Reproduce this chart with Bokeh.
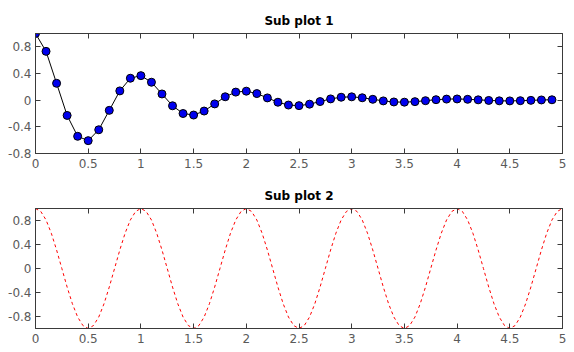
import numpy as np
from bokeh.plotting import figure
from bokeh.layouts import column
from bokeh.models import LinearAxis, FixedTicker, CustomJSTickFormatter, Range1d
from bokeh.embed import file_html
from bokeh.resources import INLINE

# ---- data ----
t1 = [0.0, 0.1, 0.2, 0.3, 0.4, 0.5, 0.6, 0.7, 0.8, 0.9,
      1.0, 1.1, 1.2, 1.3, 1.4, 1.5, 1.6, 1.7, 1.8, 1.9,
      2.0, 2.1, 2.2, 2.3, 2.4, 2.5, 2.6, 2.7, 2.8, 2.9,
      3.0, 3.1, 3.2, 3.3, 3.4, 3.5, 3.6, 3.7, 3.8, 3.9,
      4.0, 4.1, 4.2, 4.3, 4.4, 4.5, 4.6, 4.7, 4.8, 4.9]
y1 = [1.0, 0.732, 0.253, -0.229, -0.542, -0.607, -0.444, -0.153, 0.139, 0.329,
      0.368, 0.269, 0.093, -0.084, -0.200, -0.223, -0.163, -0.056, 0.051, 0.121,
      0.135, 0.099, 0.034, -0.031, -0.073, -0.082, -0.060, -0.021, 0.019, 0.044,
      0.050, 0.036, 0.013, -0.011, -0.027, -0.030, -0.022, -0.008, 0.007, 0.016,
      0.018, 0.013, 0.005, -0.004, -0.010, -0.011, -0.008, -0.003, 0.003, 0.006]

t2 = [round(i * 0.05, 2) for i in range(101)]
y2 = [1.0, 0.951, 0.809, 0.588, 0.309, 0.0, -0.309, -0.588, -0.809, -0.951,
      -1.0, -0.951, -0.809, -0.588, -0.309, 0.0, 0.309, 0.588, 0.809, 0.951,
      1.0, 0.951, 0.809, 0.588, 0.309, 0.0, -0.309, -0.588, -0.809, -0.951,
      -1.0, -0.951, -0.809, -0.588, -0.309, 0.0, 0.309, 0.588, 0.809, 0.951,
      1.0, 0.951, 0.809, 0.588, 0.309, 0.0, -0.309, -0.588, -0.809, -0.951,
      -1.0, -0.951, -0.809, -0.588, -0.309, 0.0, 0.309, 0.588, 0.809, 0.951,
      1.0, 0.951, 0.809, 0.588, 0.309, 0.0, -0.309, -0.588, -0.809, -0.951,
      -1.0, -0.951, -0.809, -0.588, -0.309, 0.0, 0.309, 0.588, 0.809, 0.951,
      1.0, 0.951, 0.809, 0.588, 0.309, 0.0, -0.309, -0.588, -0.809, -0.951,
      -1.0, -0.951, -0.809, -0.588, -0.309, 0.0, 0.309, 0.588, 0.809, 0.951,
      1.0]

x_ticks = [0, 0.5, 1, 1.5, 2, 2.5, 3, 3.5, 4, 4.5, 5]
y_ticks = [-0.8, -0.4, 0, 0.4, 0.8]
titles = ["Sub plot 1", "Sub plot 2"]

AX = "#3a3a3a"
LBL = "#5a5a5a"
FONT = "DejaVu Sans"


def style(p):
    fmt = CustomJSTickFormatter(code="return tick.toString();")
    for ax in list(p.xaxis) + list(p.yaxis):
        ax.axis_line_color = AX
        ax.major_tick_line_color = AX
        ax.major_tick_in = 5
        ax.major_tick_out = 0
        ax.minor_tick_line_color = None
        ax.major_label_text_color = LBL
        ax.major_label_text_font = FONT
        ax.major_label_text_font_size = "12px"
        ax.formatter = fmt
    p.xaxis[0].ticker = FixedTicker(ticks=x_ticks)
    p.yaxis[0].ticker = FixedTicker(ticks=y_ticks)
    top = LinearAxis(ticker=FixedTicker(ticks=x_ticks))
    right = LinearAxis(ticker=FixedTicker(ticks=y_ticks))
    for ax in (top, right):
        ax.axis_line_color = AX
        ax.major_tick_line_color = AX
        ax.major_tick_in = 5
        ax.major_tick_out = 0
        ax.minor_tick_line_color = None
        ax.major_label_text_font_size = "0px"
        ax.major_label_text_alpha = 0
        ax.major_label_standoff = 0
    p.add_layout(top, "above")
    p.add_layout(right, "right")
    p.xaxis[0].major_label_standoff = 8
    p.yaxis[0].major_label_standoff = 4
    p.xgrid.grid_line_color = None
    p.ygrid.grid_line_color = None
    p.outline_line_color = AX
    p.title.align = "center"
    p.title.text_font = FONT
    p.title.text_font_size = "12px"
    p.title.text_font_style = "bold"
    p.title.text_color = "black"
    p.title.standoff = 11
    p.min_border_left = 35
    p.min_border_right = 12
    p.background_fill_color = "white"
    p.border_fill_color = "white"


p1 = figure(width=574, height=180, title=titles[0], output_backend="svg",
            toolbar_location=None, x_range=Range1d(0, 5), y_range=Range1d(-0.8, 1.0))
p1.line(t1, y1, line_color="black", line_width=1)
p1.scatter(t1, y1, size=8, fill_color="#0000ee", line_color="black", line_width=1)
style(p1)
p1.min_border_top = 33
p1.min_border_bottom = 27

p2 = figure(width=574, height=172, title=titles[1], output_backend="svg",
            toolbar_location=None, x_range=Range1d(0, 5), y_range=Range1d(-1.0, 1.0))
p2.line(t2, y2, line_color="red", line_width=1, line_dash="3 3")
style(p2)
p2.min_border_top = 28
p2.min_border_bottom = 24

layout = column(p1, p2, spacing=0)

with open("out.html", "w") as f:
    f.write(file_html(layout, INLINE))
